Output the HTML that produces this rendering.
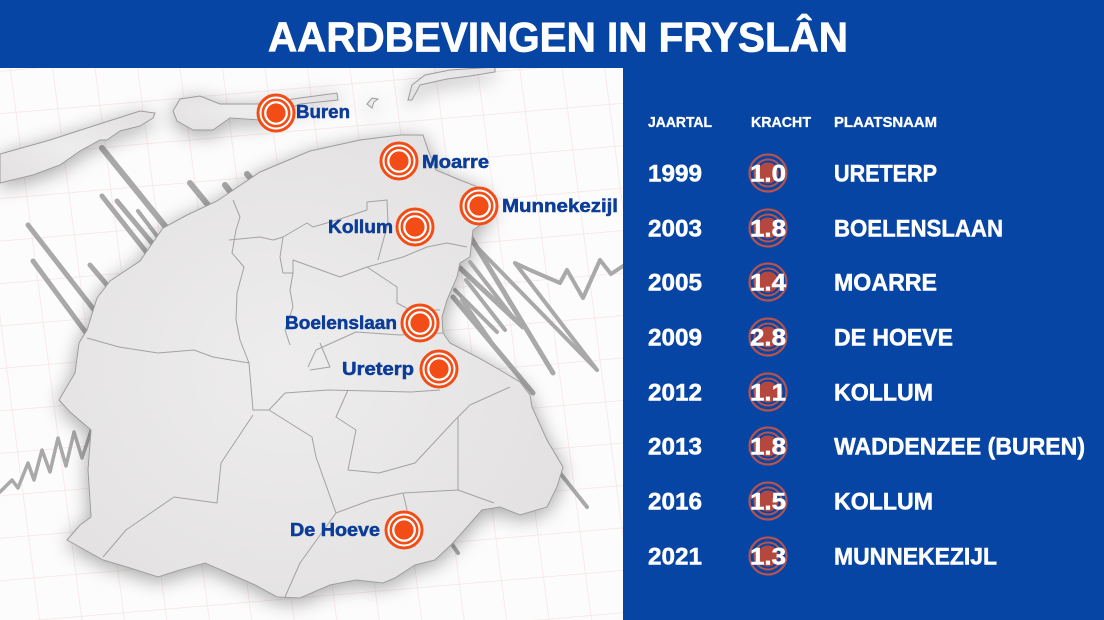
<!DOCTYPE html>
<html><head><meta charset="utf-8"><style>
html,body{margin:0;padding:0;background:#fff;}
svg{display:block;}
text{font-family:"Liberation Sans",Arial,sans-serif;font-weight:bold;}
</style></head><body>
<svg width="1104" height="620" viewBox="0 0 1104 620" xmlns="http://www.w3.org/2000/svg">
<defs>
<pattern id="grid" width="42" height="42" patternUnits="userSpaceOnUse" patternTransform="matrix(1 -0.085 0.13 1 10 70)">
<path d="M0 0 H42 M0 0 V42" stroke="#f6e4e4" stroke-width="1.5" fill="none"/>
</pattern>
<filter id="sh" x="-20%" y="-20%" width="140%" height="140%">
<feGaussianBlur in="SourceAlpha" stdDeviation="10"/>
<feOffset dx="0" dy="4" result="b"/>
<feComponentTransfer><feFuncA type="linear" slope="0.36"/></feComponentTransfer>
<feMerge><feMergeNode/><feMergeNode in="SourceGraphic"/></feMerge>
</filter>
<radialGradient id="land" cx="0.45" cy="0.5" r="0.6">
<stop offset="0" stop-color="#eeeded"/><stop offset="1" stop-color="#e3e1e1"/>
</radialGradient>
</defs>

<rect x="0" y="68" width="623" height="552" fill="#fdfcfc"/>
<rect x="0" y="68" width="623" height="552" fill="url(#grid)"/>

<g stroke="#a9a9a9" stroke-linecap="round" fill="none">
<line x1="102" y1="148" x2="165" y2="226" stroke-width="6"/>
<line x1="102" y1="196" x2="147" y2="253" stroke-width="5"/>
<line x1="117" y1="201" x2="152" y2="243" stroke-width="5"/>
<line x1="138" y1="211" x2="157" y2="236" stroke-width="4"/>
<line x1="28" y1="225" x2="98" y2="315" stroke-width="5"/>
<line x1="33" y1="261" x2="95" y2="345" stroke-width="5"/>
<line x1="90" y1="265" x2="107" y2="285" stroke-width="5"/>
<line x1="190" y1="183" x2="208" y2="205" stroke-width="6"/>
<line x1="225" y1="185" x2="232" y2="194" stroke-width="6"/>
<line x1="247" y1="174" x2="253" y2="181" stroke-width="6"/>
<polyline points="0,492 12,480 18,488 28,463 34,480 42,450 50,472 58,438 66,466 74,432 82,458 92,428" stroke-width="3.5" stroke-linejoin="round"/>
<line x1="470" y1="236" x2="553" y2="373" stroke-width="5"/>
<line x1="470" y1="240" x2="597" y2="370" stroke-width="4"/>
<polyline points="597,370 515,263 530,270 560,283 567,270 583,298 600,260 611,274 623,266" stroke-width="4" stroke-linejoin="round"/>
<line x1="453" y1="297" x2="533" y2="393" stroke-width="5"/>
<line x1="460" y1="268" x2="523" y2="327" stroke-width="5"/>
<line x1="455" y1="290" x2="497" y2="332" stroke-width="4"/>
<line x1="560" y1="473" x2="587" y2="507" stroke-width="4"/>
<line x1="447" y1="537" x2="458" y2="553" stroke-width="4"/>
</g>

<g filter="url(#sh)" fill="url(#land)" stroke="#9c9c9c" stroke-width="1">
<path d="M0,154 L50,140 L87,128 L140,111 L155,113 L153,118 L140,126 L120,131 L107,140 L100,140 L80,151 L60,165 L33,175 L0,183 Z"/>
<path d="M173,111 L180,99 L200,96 L220,104 L260,104 L300,98 L337,93 L338,100 L300,104 L280,112 L260,120 L230,118 L213,130 L193,130 L177,121 Z"/>
<path d="M408,100 L412,85 L425,75 L450,70 L495,67 L495,72 L470,76 L447,79 L420,85 L412,100 Z"/>
<path d="M367,104 L372,98 L378,99 L374,102 L372,108 Z"/>
<path d="M97,298 L110,281 L140,261 L163,228 L187,215 L217,201 L260,172 L310,151 L360,140 L400,135 L423,135 L428,150 L436,170 L460,180 L478,187 L490,200 L488,220 L473,230 L470,257 L460,263 L457,277 L447,300 L442,317 L443,333 L450,343 L477,357 L500,370 L520,382 L530,395 L532,407 L547,440 L563,467 L557,487 L547,507 L520,515 L500,507 L482,510 L460,535 L451,545 L435,560 L415,565 L395,578 L383,583 L356,580 L330,585 L300,598 L277,597 L255,585 L237,577 L205,563 L180,570 L158,577 L130,568 L103,560 L67,540 L80,525 L91,517 L88,470 L91,430 L70,412 L59,400 L75,373 L79,343 L87,330 Z"/>
</g>

<g stroke="#a3a3a3" stroke-width="1" fill="none" stroke-linejoin="round">
<path d="M233,200 L240,217 L236,230 L232,253 L244,267 L237,293 L236,320 L240,340 L249,363"/>
<path d="M87,338 L119,347 L158,353 L194,350 L213,357 L249,363 L253,410 L269,410 L285,393 L328,390 L411,392 L440,390"/>
<path d="M269,410 L296,427 L312,437 L316,457 L336,513 L300,563 L285,597"/>
<path d="M253,415 L221,463 L217,503 L174,497 L126,530 L103,557"/>
<path d="M336,513 L371,500 L403,493 L458,490 L494,503"/>
<path d="M348,390 L336,417 L356,430 L348,470 L379,473 L415,463 L455,420 L470,405 L510,387"/>
<path d="M308,367 L316,350 L356,332 L400,335 L443,333"/>
<path d="M260,237 L273,240 L283,237 L307,223 L313,227 L337,220 L367,210 L367,202 L387,200 L388,223 L378,260"/>
<path d="M283,237 L280,257 L283,273 L293,273 L293,260 L340,277 L367,267 L403,257 L427,247 L447,243 L467,247"/>
<path d="M367,267 L397,287 L397,303 L410,310 L440,310"/>
<path d="M293,273 L290,290 L293,307 L285,330 L290,345"/>
<path d="M320,343 L330,367 L310,370"/>
<path d="M229,240 L260,237"/>
<path d="M403,493 L407,510 L415,547"/>
<path d="M458,417 L458,490"/>
</g>

<g stroke="#a9a9a9" stroke-linecap="round" fill="none" stroke-width="4">
<line x1="462" y1="300" x2="490" y2="340"/>
<line x1="466" y1="280" x2="505" y2="330"/>
<line x1="470" y1="262" x2="515" y2="320"/>
</g>

<g fill="none" stroke="#f24c17">
<g transform="translate(276,113)"><circle r="19.5" fill="#fff" stroke="none"/><circle r="18" stroke-width="3"/><circle r="13.2" stroke-width="2.6"/><circle r="9.6" fill="#f24c17" stroke="none"/></g>
<g transform="translate(399,161)"><circle r="19.5" fill="#fff" stroke="none"/><circle r="18" stroke-width="3"/><circle r="13.2" stroke-width="2.6"/><circle r="9.6" fill="#f24c17" stroke="none"/></g>
<g transform="translate(479,206)"><circle r="19.5" fill="#fff" stroke="none"/><circle r="18" stroke-width="3"/><circle r="13.2" stroke-width="2.6"/><circle r="9.6" fill="#f24c17" stroke="none"/></g>
<g transform="translate(415,227)"><circle r="19.5" fill="#fff" stroke="none"/><circle r="18" stroke-width="3"/><circle r="13.2" stroke-width="2.6"/><circle r="9.6" fill="#f24c17" stroke="none"/></g>
<g transform="translate(420,323)"><circle r="19.5" fill="#fff" stroke="none"/><circle r="18" stroke-width="3"/><circle r="13.2" stroke-width="2.6"/><circle r="9.6" fill="#f24c17" stroke="none"/></g>
<g transform="translate(439,369)"><circle r="19.5" fill="#fff" stroke="none"/><circle r="18" stroke-width="3"/><circle r="13.2" stroke-width="2.6"/><circle r="9.6" fill="#f24c17" stroke="none"/></g>
<g transform="translate(404,530)"><circle r="19.5" fill="#fff" stroke="none"/><circle r="18" stroke-width="3"/><circle r="13.2" stroke-width="2.6"/><circle r="9.6" fill="#f24c17" stroke="none"/></g>
</g>

<g fill="#0b3d98" font-size="18" stroke="#0b3d98" stroke-width="0.5">
<text x="296" y="118" textLength="54" lengthAdjust="spacingAndGlyphs">Buren</text>
<text x="422" y="168" textLength="67" lengthAdjust="spacingAndGlyphs">Moarre</text>
<text x="502" y="212" textLength="116" lengthAdjust="spacingAndGlyphs">Munnekezijl</text>
<text x="328" y="233" textLength="65" lengthAdjust="spacingAndGlyphs">Kollum</text>
<text x="285" y="329" textLength="112" lengthAdjust="spacingAndGlyphs">Boelenslaan</text>
<text x="342" y="375" textLength="72" lengthAdjust="spacingAndGlyphs">Ureterp</text>
<text x="290" y="536" textLength="90" lengthAdjust="spacingAndGlyphs">De Hoeve</text>
</g>

<rect x="0" y="0" width="1104" height="68" fill="#0745a5"/>
<text x="268" y="51.5" font-size="42" fill="#fff" stroke="#fff" stroke-width="0.8" textLength="580" lengthAdjust="spacingAndGlyphs">AARDBEVINGEN IN FRYSLÂN</text>

<rect x="623" y="68" width="481" height="552" fill="#0745a5"/>
<g fill="#fff" font-size="14.5" stroke="#fff" stroke-width="0.3">
<text x="648" y="127" textLength="64" lengthAdjust="spacingAndGlyphs">JAARTAL</text>
<text x="751" y="127" textLength="60" lengthAdjust="spacingAndGlyphs">KRACHT</text>
<text x="834" y="127" textLength="103" lengthAdjust="spacingAndGlyphs">PLAATSNAAM</text>
</g>

<g fill="none" stroke="#b5534c">
<g transform="translate(768,173)"><circle r="18.5" stroke-width="2.2"/><circle r="13.5" stroke-width="2"/><circle r="10.5" fill="#b4483e" stroke="none"/></g>
<g transform="translate(768,228)"><circle r="18.5" stroke-width="2.2"/><circle r="13.5" stroke-width="2"/><circle r="10.5" fill="#b4483e" stroke="none"/></g>
<g transform="translate(768,282)"><circle r="18.5" stroke-width="2.2"/><circle r="13.5" stroke-width="2"/><circle r="10.5" fill="#b4483e" stroke="none"/></g>
<g transform="translate(768,337)"><circle r="18.5" stroke-width="2.2"/><circle r="13.5" stroke-width="2"/><circle r="10.5" fill="#b4483e" stroke="none"/></g>
<g transform="translate(768,392)"><circle r="18.5" stroke-width="2.2"/><circle r="13.5" stroke-width="2"/><circle r="10.5" fill="#b4483e" stroke="none"/></g>
<g transform="translate(768,446)"><circle r="18.5" stroke-width="2.2"/><circle r="13.5" stroke-width="2"/><circle r="10.5" fill="#b4483e" stroke="none"/></g>
<g transform="translate(768,501)"><circle r="18.5" stroke-width="2.2"/><circle r="13.5" stroke-width="2"/><circle r="10.5" fill="#b4483e" stroke="none"/></g>
<g transform="translate(768,556)"><circle r="18.5" stroke-width="2.2"/><circle r="13.5" stroke-width="2"/><circle r="10.5" fill="#b4483e" stroke="none"/></g>
</g>

<g fill="#fff" font-size="24" stroke="#fff" stroke-width="0.5">
<text x="648" y="181.5" textLength="54" lengthAdjust="spacingAndGlyphs">1999</text>
<text x="750" y="181.5" textLength="36" lengthAdjust="spacingAndGlyphs">1.0</text>
<text x="834" y="181.5" textLength="103" lengthAdjust="spacingAndGlyphs">URETERP</text>

<text x="648" y="236.5" textLength="54" lengthAdjust="spacingAndGlyphs">2003</text>
<text x="750" y="236.5" textLength="36" lengthAdjust="spacingAndGlyphs">1.8</text>
<text x="834" y="236.5" textLength="169" lengthAdjust="spacingAndGlyphs">BOELENSLAAN</text>

<text x="648" y="290.5" textLength="54" lengthAdjust="spacingAndGlyphs">2005</text>
<text x="750" y="290.5" textLength="36" lengthAdjust="spacingAndGlyphs">1.4</text>
<text x="834" y="290.5" textLength="103" lengthAdjust="spacingAndGlyphs">MOARRE</text>

<text x="648" y="345.5" textLength="54" lengthAdjust="spacingAndGlyphs">2009</text>
<text x="750" y="345.5" textLength="36" lengthAdjust="spacingAndGlyphs">2.8</text>
<text x="834" y="345.5" textLength="119" lengthAdjust="spacingAndGlyphs">DE HOEVE</text>

<text x="648" y="400.5" textLength="54" lengthAdjust="spacingAndGlyphs">2012</text>
<text x="750" y="400.5" textLength="36" lengthAdjust="spacingAndGlyphs">1.1</text>
<text x="834" y="400.5" textLength="99" lengthAdjust="spacingAndGlyphs">KOLLUM</text>

<text x="648" y="454.5" textLength="54" lengthAdjust="spacingAndGlyphs">2013</text>
<text x="750" y="454.5" textLength="36" lengthAdjust="spacingAndGlyphs">1.8</text>
<text x="834" y="454.5" textLength="251" lengthAdjust="spacingAndGlyphs">WADDENZEE (BUREN)</text>

<text x="648" y="509.5" textLength="54" lengthAdjust="spacingAndGlyphs">2016</text>
<text x="750" y="509.5" textLength="36" lengthAdjust="spacingAndGlyphs">1.5</text>
<text x="834" y="509.5" textLength="99" lengthAdjust="spacingAndGlyphs">KOLLUM</text>

<text x="648" y="564.5" textLength="54" lengthAdjust="spacingAndGlyphs">2021</text>
<text x="750" y="564.5" textLength="36" lengthAdjust="spacingAndGlyphs">1.3</text>
<text x="834" y="564.5" textLength="163" lengthAdjust="spacingAndGlyphs">MUNNEKEZIJL</text>
</g>
</svg>
</body></html>
